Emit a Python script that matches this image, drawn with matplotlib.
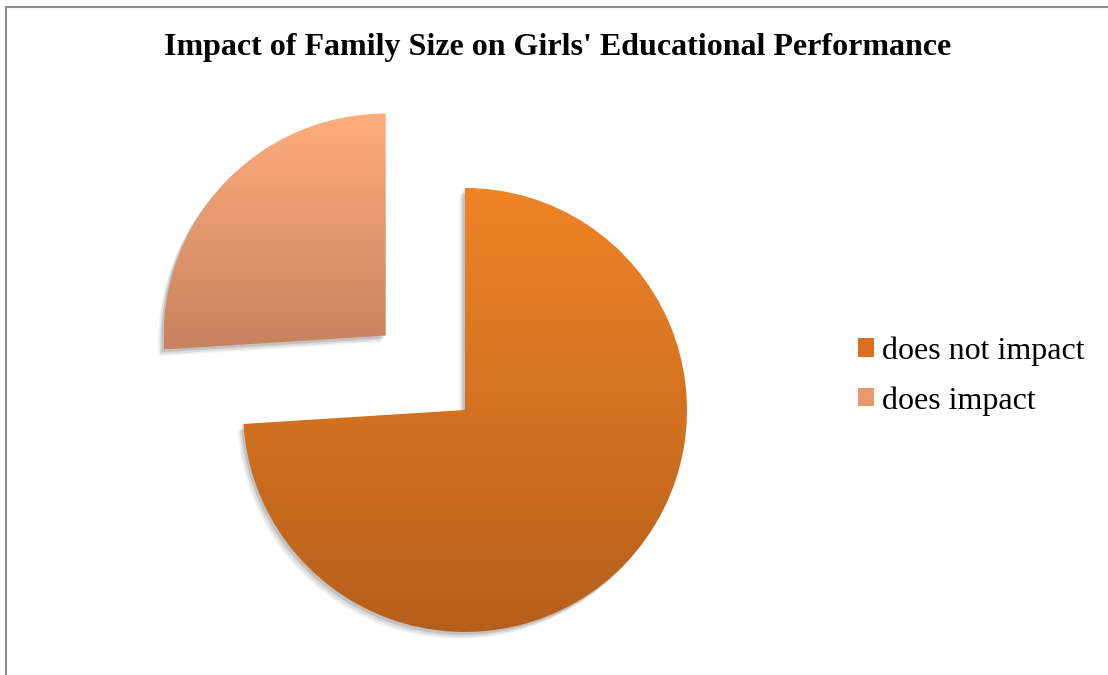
import matplotlib
matplotlib.use("Agg")
import matplotlib.pyplot as plt
import numpy as np
from matplotlib.patches import Wedge, Patch
from matplotlib.colors import LinearSegmentedColormap
from matplotlib.lines import Line2D

# datos del grafico
etiquetas = ["does not impact", "does impact"]
valores = [74, 26]
separacion = [0, 0.49]
colores_arriba = ["#EF8426", "#FFAD7D"]
colores_abajo = ["#B65F1C", "#C8825E"]
titulo = "Impact of Family Size on Girls' Educational Performance"

plt.rcParams['font.family'] = ['Liberation Serif', 'DejaVu Serif']

fig = plt.figure(figsize=(11.08, 6.75), dpi=100)
W, H = 1108, 675

# ejes del pastel: centro (465, 410) px, radio 222 px
cx, cy, half = 465, 410, 340
ax = fig.add_axes([(cx - half) / W, (H - cy - half) / H, 2 * half / W, 2 * half / H])
lim = half / 222

cunas, _ = ax.pie(valores, explode=separacion, startangle=90, counterclock=False,
                  radius=1, colors=colores_arriba, frame=True)
ax.set_aspect('equal')

# sombra difusa
for w in cunas:
    for dx, dy, a in [(-0.025, -0.03, 0.06), (-0.018, -0.022, 0.08), (-0.01, -0.013, 0.12)]:
        s = Wedge((w.center[0] + dx, w.center[1] + dy), w.r, w.theta1, w.theta2,
                  facecolor='black', edgecolor='none', alpha=a, zorder=0.5)
        ax.add_patch(s)

# relleno con degradado vertical
grad = np.linspace(0, 1, 256).reshape(-1, 1)
for w, c1, c2 in zip(cunas, colores_arriba, colores_abajo):
    cmap = LinearSegmentedColormap.from_list('g', [c2, c1])
    ext = w.get_path().get_extents()
    im = ax.imshow(grad, cmap=cmap, origin='lower', aspect='auto',
                   extent=[ext.x0, ext.x1, ext.y0, ext.y1], zorder=2)
    im.set_clip_path(w)
    w.set_alpha(0)

ax.set_xlim(-lim, lim)
ax.set_ylim(-lim, lim)
ax.axis('off')

# titulo
fig.text(558 / W, 1 - 47 / H, titulo, ha='center', va='center',
         fontsize=23, fontweight='bold')

# leyenda
manejadores = [Patch(facecolor=c, edgecolor='none') for c in ["#D8701F", "#E8996C"]]
fig.legend(manejadores, etiquetas, loc='center left', bbox_to_anchor=(858 / W, 1 - 376 / H),
           fontsize=23, frameon=False, handlelength=0.5, handleheight=0.5,
           handletextpad=0.25, labelspacing=0.64, borderaxespad=0, borderpad=0)

# borde de la figura
fig.add_artist(Line2D([5.5 / W, 5.5 / W], [0, 1 - 6.5 / H], color='#8c8c8c', lw=1.5, transform=fig.transFigure))
fig.add_artist(Line2D([5.5 / W, 1], [1 - 6.5 / H, 1 - 6.5 / H], color='#8c8c8c', lw=1.5, transform=fig.transFigure))

fig.savefig('out.png', dpi=100)
